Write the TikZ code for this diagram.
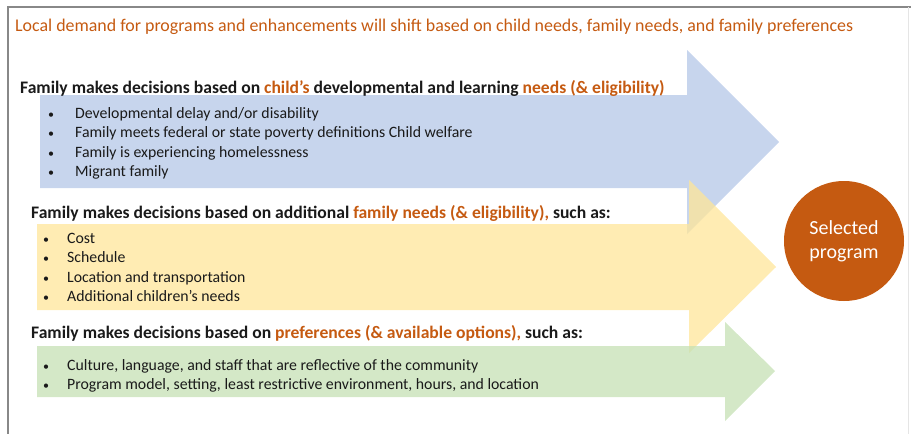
\documentclass[tikz,border=0pt]{standalone}
\usepackage{fontspec}
\setmainfont{Carlito}
\usetikzlibrary{calc}
\definecolor{accent}{HTML}{C55A11}
\definecolor{childneeds}{HTML}{B4C7E7}
\definecolor{familyneeds}{HTML}{FFE699}
\definecolor{preference}{HTML}{C5E0B4}
\definecolor{frame}{HTML}{888888}
\definecolor{ink}{HTML}{1A1A1A}
\newcommand{\hl}[1]{\textcolor{accent}{#1}}
\newcommand{\bulletmark}{{\fontsize{12}{12}\selectfont\textbullet}}

\begin{document}
\begin{tikzpicture}[
  x=1pt,y=1pt,font=\fontsize{15.8}{19.5}\selectfont,
  title/.style={anchor=base west,inner sep=0pt,text=accent,font=\fontsize{17.9}{21}\selectfont},
  heading/.style={anchor=base west,inner sep=0pt,text=ink,font=\bfseries\fontsize{17.6}{20}\selectfont},
  items/.style={anchor=base west,inner sep=0pt,text=ink},
  band/.style={fill opacity=.75},
  outcome/.style={circle,fill=accent,minimum size=120pt,inner sep=0pt,text=white,
    align=center,font=\fontsize{20}{24}\selectfont}
]
\path[use as bounding box] (0,0) rectangle (911,-434);

% slide frame
\draw[frame,line width=1.6pt] (8,-434) -- (8,-7) -- (911,-7);
\draw[gray!20,line width=.8pt] (908.5,-7) -- (908.5,-434);

\node[title] (demand) at (15,-31)
  {Local demand for programs and enhancements will shift based on child needs, family needs, and family preferences};

% the three arrows, drawn back to front
\fill[childneeds,band] (40,-95) -- (687,-95) -- (687,-50) -- (779,-142)
  -- (687,-234) -- (687,-188) -- (40,-188) -- cycle;
\fill[familyneeds,band] (37,-224) -- (689,-224) -- (689,-180) -- (776,-267)
  -- (689,-353) -- (689,-310) -- (37,-310) -- cycle;
\fill[preference,band] (37,-346) -- (725,-346) -- (725,-322) -- (775,-371)
  -- (725,-421) -- (725,-397) -- (37,-397) -- cycle;

% child needs
\node[heading] (childhead) at (20,-93)
  {Family makes decisions based on \hl{child’s} developmental and learning \hl{needs (\& eligibility)}};
\node[items] (childlist) at (48,-118) {\begin{tabular}[t]{@{}p{27pt}@{}l@{}}
  \bulletmark & Developmental delay and/or disability\\
  \bulletmark & Family meets federal or state poverty definitions Child welfare\\
  \bulletmark & Family is experiencing homelessness\\
  \bulletmark & Migrant family
\end{tabular}};

% family needs
\node[heading] (familyhead) at (31,-218)
  {Family makes decisions based on additional \hl{family needs (\& eligibility),} such as:};
\node[items] (familylist) at (43,-243) {\begin{tabular}[t]{@{}p{24pt}@{}l@{}}
  \bulletmark & Cost\\
  \bulletmark & Schedule\\
  \bulletmark & Location and transportation\\
  \bulletmark & Additional children’s needs
\end{tabular}};

% preferences
\node[heading] (prefhead) at (31,-338)
  {Family makes decisions based on \hl{preferences (\& available options),} such as:};
\node[items] (preflist) at (43,-370) {\begin{tabular}[t]{@{}p{24pt}@{}l@{}}
  \bulletmark & Culture, language, and staff that are reflective of the community\\
  \bulletmark & Program model, setting, least restrictive environment, hours, and location
\end{tabular}};

\node[outcome] (program) at (844,-241) {Selected\\program};
\end{tikzpicture}
\end{document}
